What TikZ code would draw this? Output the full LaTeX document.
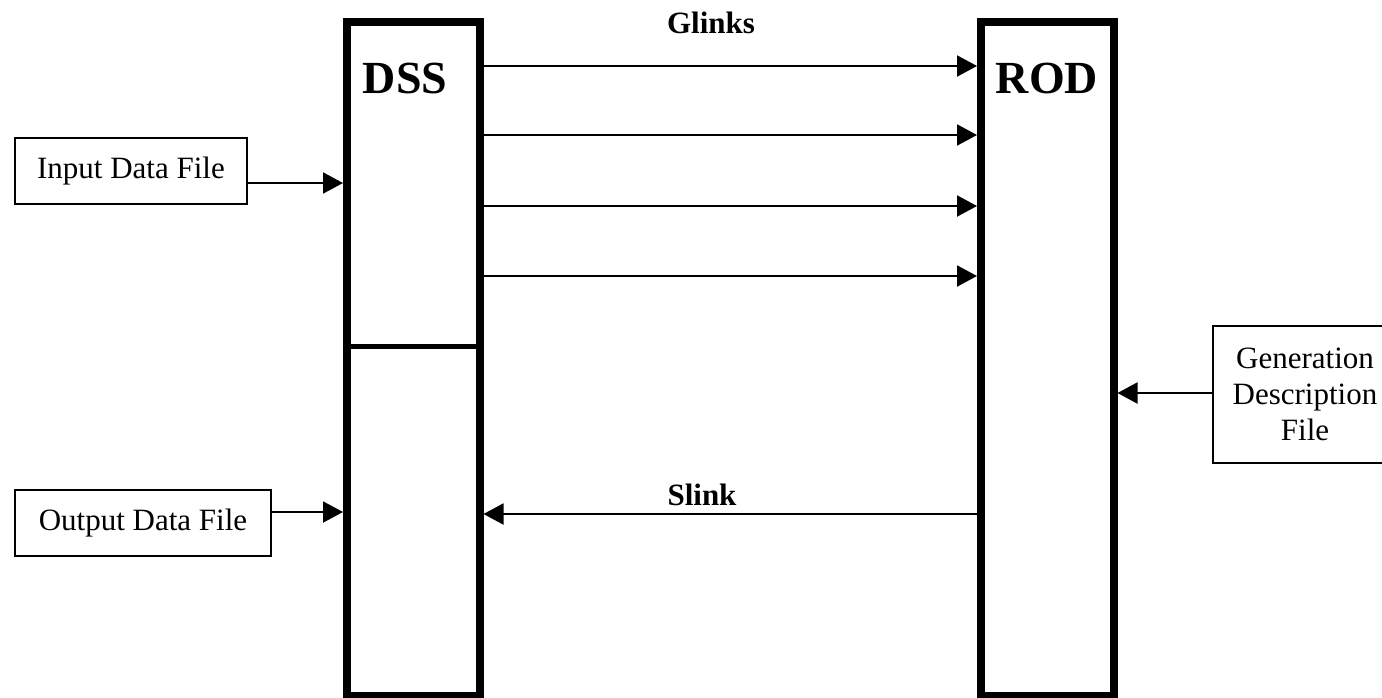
\documentclass[tikz,border=0pt]{standalone}
\usepackage{fontspec}
\setmainfont{Liberation Serif}
\usetikzlibrary{arrows.meta}
\begin{document}
\begin{tikzpicture}[x=1pt,y=-1pt,
  bigbox/.style={draw,line width=8pt,minimum width=132.5pt,minimum height=674pt,inner sep=0pt},
  filebox/.style={draw,line width=1.8pt,inner sep=0pt,align=center,font=\fontsize{31}{36}\selectfont},
  biglabel/.style={font=\fontsize{46}{50}\selectfont\bfseries,inner sep=0pt},
  linklabel/.style={font=\fontsize{31}{36}\selectfont\bfseries,inner sep=0pt},
  conn/.style={line width=2pt,-{Triangle[length=20pt,width=21pt]}}]
\useasboundingbox (0,0) rectangle (1382,697);
% main blocks
\node[bigbox] (dss) at (413.25,359) {};
\node[bigbox] (rod) at (1047.25,359) {};
\node[biglabel,anchor=base] (dsslbl) at (405,93) {DSS};
\node[biglabel,anchor=base] (rodlbl) at (1047,93) {ROD};
\coordinate (divL) at (343,346.5);
\coordinate (divR) at (483,346.5);
\draw[line width=5pt] (divL) -- (divR);
% file boxes
\node[filebox,minimum width=232pt,minimum height=66pt] (inbox) at (131,171) {Input Data File};
\node[filebox,minimum width=256pt,minimum height=66pt] (outbox) at (143,523) {Output Data File};
\node[filebox,minimum width=184pt,minimum height=137pt] (genbox) at (1305,394.5) {Generation\\Description\\File};
% glinks
\foreach \yy in {66,135,206,276}{
  \draw[conn] (dss.east |- 0,\yy) -- (rod.west |- 0,\yy);
}
\node[linklabel,anchor=base] (glinks) at (711,33) {Glinks};
% slink
\draw[conn] (rod.west |- 0,514) -- (dss.east |- 0,514);
\node[linklabel,anchor=base] (slink) at (702,505) {Slink};
% file arrows
\draw[conn] (inbox.east |- 0,183) -- (dss.west |- 0,183);
\draw[conn] (outbox.east |- 0,512) -- (dss.west |- 0,512);
\draw[conn] (genbox.west |- 0,393) -- (rod.east |- 0,393);
\end{tikzpicture}
\end{document}
